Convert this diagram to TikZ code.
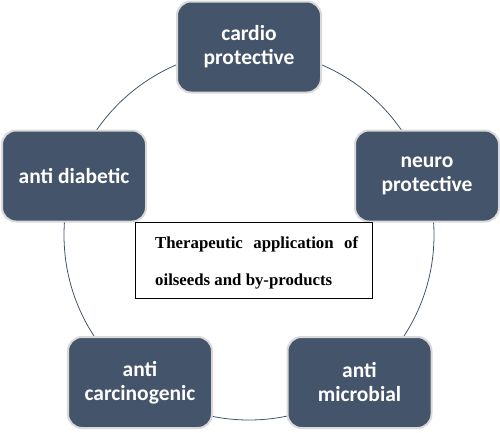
\documentclass[tikz,border=0pt]{standalone}
\usepackage{fontspec}
\setmainfont{Carlito}
\newfontfamily\timesfont{Liberation Serif}
\definecolor{boxfill}{HTML}{44546A}
\definecolor{boxedge}{HTML}{D9D9D9}
\definecolor{ringcol}{HTML}{44546A}
\begin{document}
\begin{tikzpicture}[x=1pt,y=-1pt,
  item/.style={draw=boxedge, line width=2pt, fill=boxfill, rounded corners=14pt,
    minimum width=144pt, minimum height=91pt, text=white, align=center,
    font=\fontsize{21.5}{24}\selectfont\bfseries, inner sep=0pt},
  centerbox/.style={draw=black, line width=0.8pt, fill=white, minimum width=237pt,
    minimum height=76pt, inner sep=0pt},
  ring/.style={draw=ringcol, line width=0.8pt},
  ctext/.style={anchor=base west, inner sep=0pt, font=\timesfont\fontsize{16.8}{20}\selectfont\bfseries}]
\useasboundingbox (0,0) rectangle (500,432);
\coordinate (c) at (249,235);
\draw[ring] (c) circle[radius=185];
\node[item] (cardio) at (249,47) {cardio\\protective};
\node[item] (neuro) at (427,176) {neuro\\protective};
\node[item] (diab) at (74,176) {anti diabetic};
\node[item] (carc) at (140,382.5) {anti\\carcinogenic};
\node[item] (micro) at (359.5,382.5) {anti\\microbial};
\node[centerbox] (center) at (253.5,260) {};
\node[ctext] (l1) at (155,248) {\makebox[203pt][s]{Therapeutic application of}};
\node[ctext] (l2) at (155,285) {oilseeds and by-products};
\end{tikzpicture}
\end{document}
